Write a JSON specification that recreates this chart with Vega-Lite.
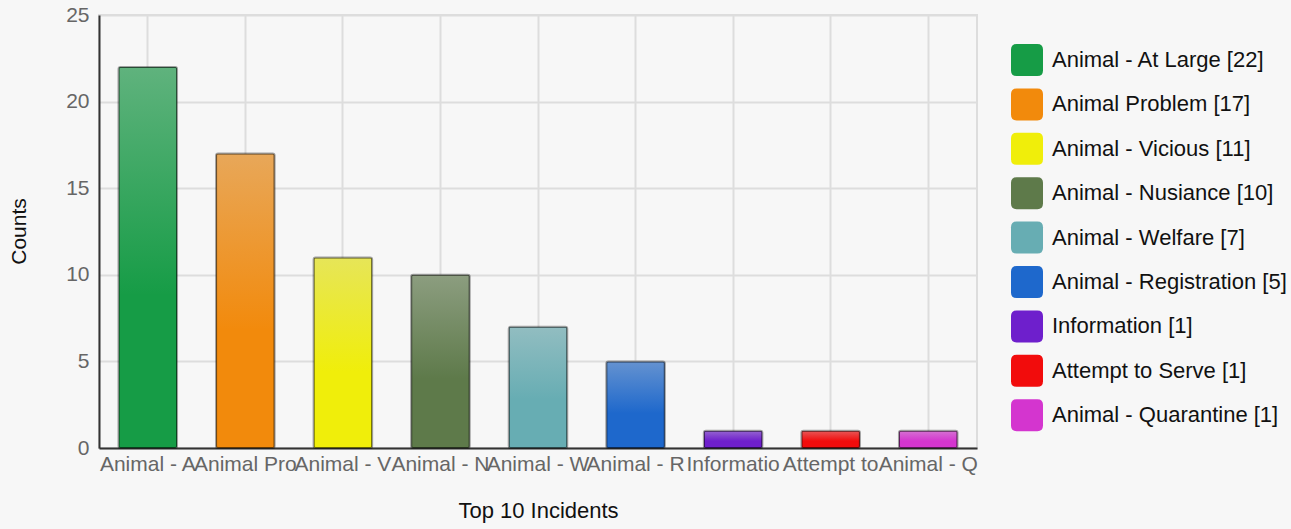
{
  "$schema": "https://vega.github.io/schema/vega-lite/v6.json",
  "width": 878,
  "height": 433,
  "autosize": {"type": "none"},
  "padding": {"left": 99, "top": 15, "right": 314, "bottom": 81},
  "background": "#f7f7f7",
  "config": {
    "font": "Liberation Sans",
    "view": {"stroke": "#dddddd", "strokeWidth": 2}
  },
  "data": {
    "values": [
      {"incident": "Animal - At Large", "count": 22, "legend": "Animal - At Large [22]"},
      {"incident": "Animal Problem", "count": 17, "legend": "Animal Problem [17]"},
      {"incident": "Animal - Vicious", "count": 11, "legend": "Animal - Vicious [11]"},
      {"incident": "Animal - Nusiance", "count": 10, "legend": "Animal - Nusiance [10]"},
      {"incident": "Animal - Welfare", "count": 7, "legend": "Animal - Welfare [7]"},
      {"incident": "Animal - Registration", "count": 5, "legend": "Animal - Registration [5]"},
      {"incident": "Information", "count": 1, "legend": "Information [1]"},
      {"incident": "Attempt to Serve", "count": 1, "legend": "Attempt to Serve [1]"},
      {"incident": "Animal - Quarantine", "count": 1, "legend": "Animal - Quarantine [1]"}
    ]
  },
  "encoding": {
    "x": {
      "field": "incident",
      "type": "nominal",
      "sort": null,
      "scale": {"paddingInner": 0.4, "paddingOuter": 0.2},
      "axis": {
        "title": "Top 10 Incidents",
        "titleFontSize": 22,
        "titleFontWeight": "normal",
        "titleColor": "#111111",
        "titlePadding": 26,
        "labelAngle": 0,
        "labelFontSize": 21,
        "labelColor": "#666666",
        "labelPadding": 5,
        "labelExpr": "substring(datum.label, 0, 10)",
        "labelLimit": 110,
        "ticks": false,
        "grid": true,
        "gridColor": "#dddddd",
        "gridWidth": 2,
        "domainColor": "#333333",
        "domainWidth": 2
      }
    },
    "y": {
      "field": "count",
      "type": "quantitative",
      "scale": {"domain": [0, 25]},
      "axis": {
        "title": "Counts",
        "titleFontSize": 21,
        "titleFontWeight": "normal",
        "titleColor": "#111111",
        "titleX": -70,
        "titleY": 216,
        "values": [0, 5, 10, 15, 20, 25],
        "labelFontSize": 21,
        "labelColor": "#666666",
        "labelPadding": 10,
        "ticks": false,
        "gridColor": "#dddddd",
        "gridWidth": 2,
        "domainColor": "#333333",
        "domainWidth": 2
      }
    }
  },
  "layer": [
    {
      "mark": {"type": "bar", "cornerRadius": 2},
      "encoding": {
        "color": {
          "field": "legend",
          "type": "nominal",
          "scale": {
            "domain": ["Animal - At Large [22]", "Animal Problem [17]", "Animal - Vicious [11]", "Animal - Nusiance [10]", "Animal - Welfare [7]", "Animal - Registration [5]", "Information [1]", "Attempt to Serve [1]", "Animal - Quarantine [1]"],
            "range": ["#169c46", "#f28a0c", "#f0ee0a", "#5e7a4a", "#67adb3", "#1e68cc", "#6e1fcc", "#f20c0c", "#d435cf"]
          },
          "legend": {
            "title": null,
            "orient": "none",
            "legendX": 912,
            "legendY": 29,
            "labelFontSize": 22,
            "labelColor": "#111111",
            "labelOffset": 9,
            "symbolSize": 1024,
            "symbolType": "M -0.65 -1 L 0.65 -1 Q 1 -1 1 -0.65 L 1 0.65 Q 1 1 0.65 1 L -0.65 1 Q -1 1 -1 0.65 L -1 -0.65 Q -1 -1 -0.65 -1 Z",
            "symbolStrokeWidth": 0,
            "symbolOpacity": 1,
            "rowPadding": 12.4,
            "labelLimit": 300
          }
        }
      }
    },
    {
      "mark": {
        "type": "bar",
        "cornerRadius": 2,
        "stroke": "rgba(0,0,0,0.35)",
        "strokeWidth": 2,
        "fill": {
          "gradient": "linear",
          "x1": 0, "y1": 0, "x2": 0, "y2": 1,
          "stops": [
            {"offset": 0, "color": "rgba(215,215,215,0.38)"},
            {"offset": 0.6, "color": "rgba(215,215,215,0)"},
            {"offset": 1, "color": "rgba(215,215,215,0)"}
          ]
        }
      },
      "encoding": {}
    }
  ]
}
